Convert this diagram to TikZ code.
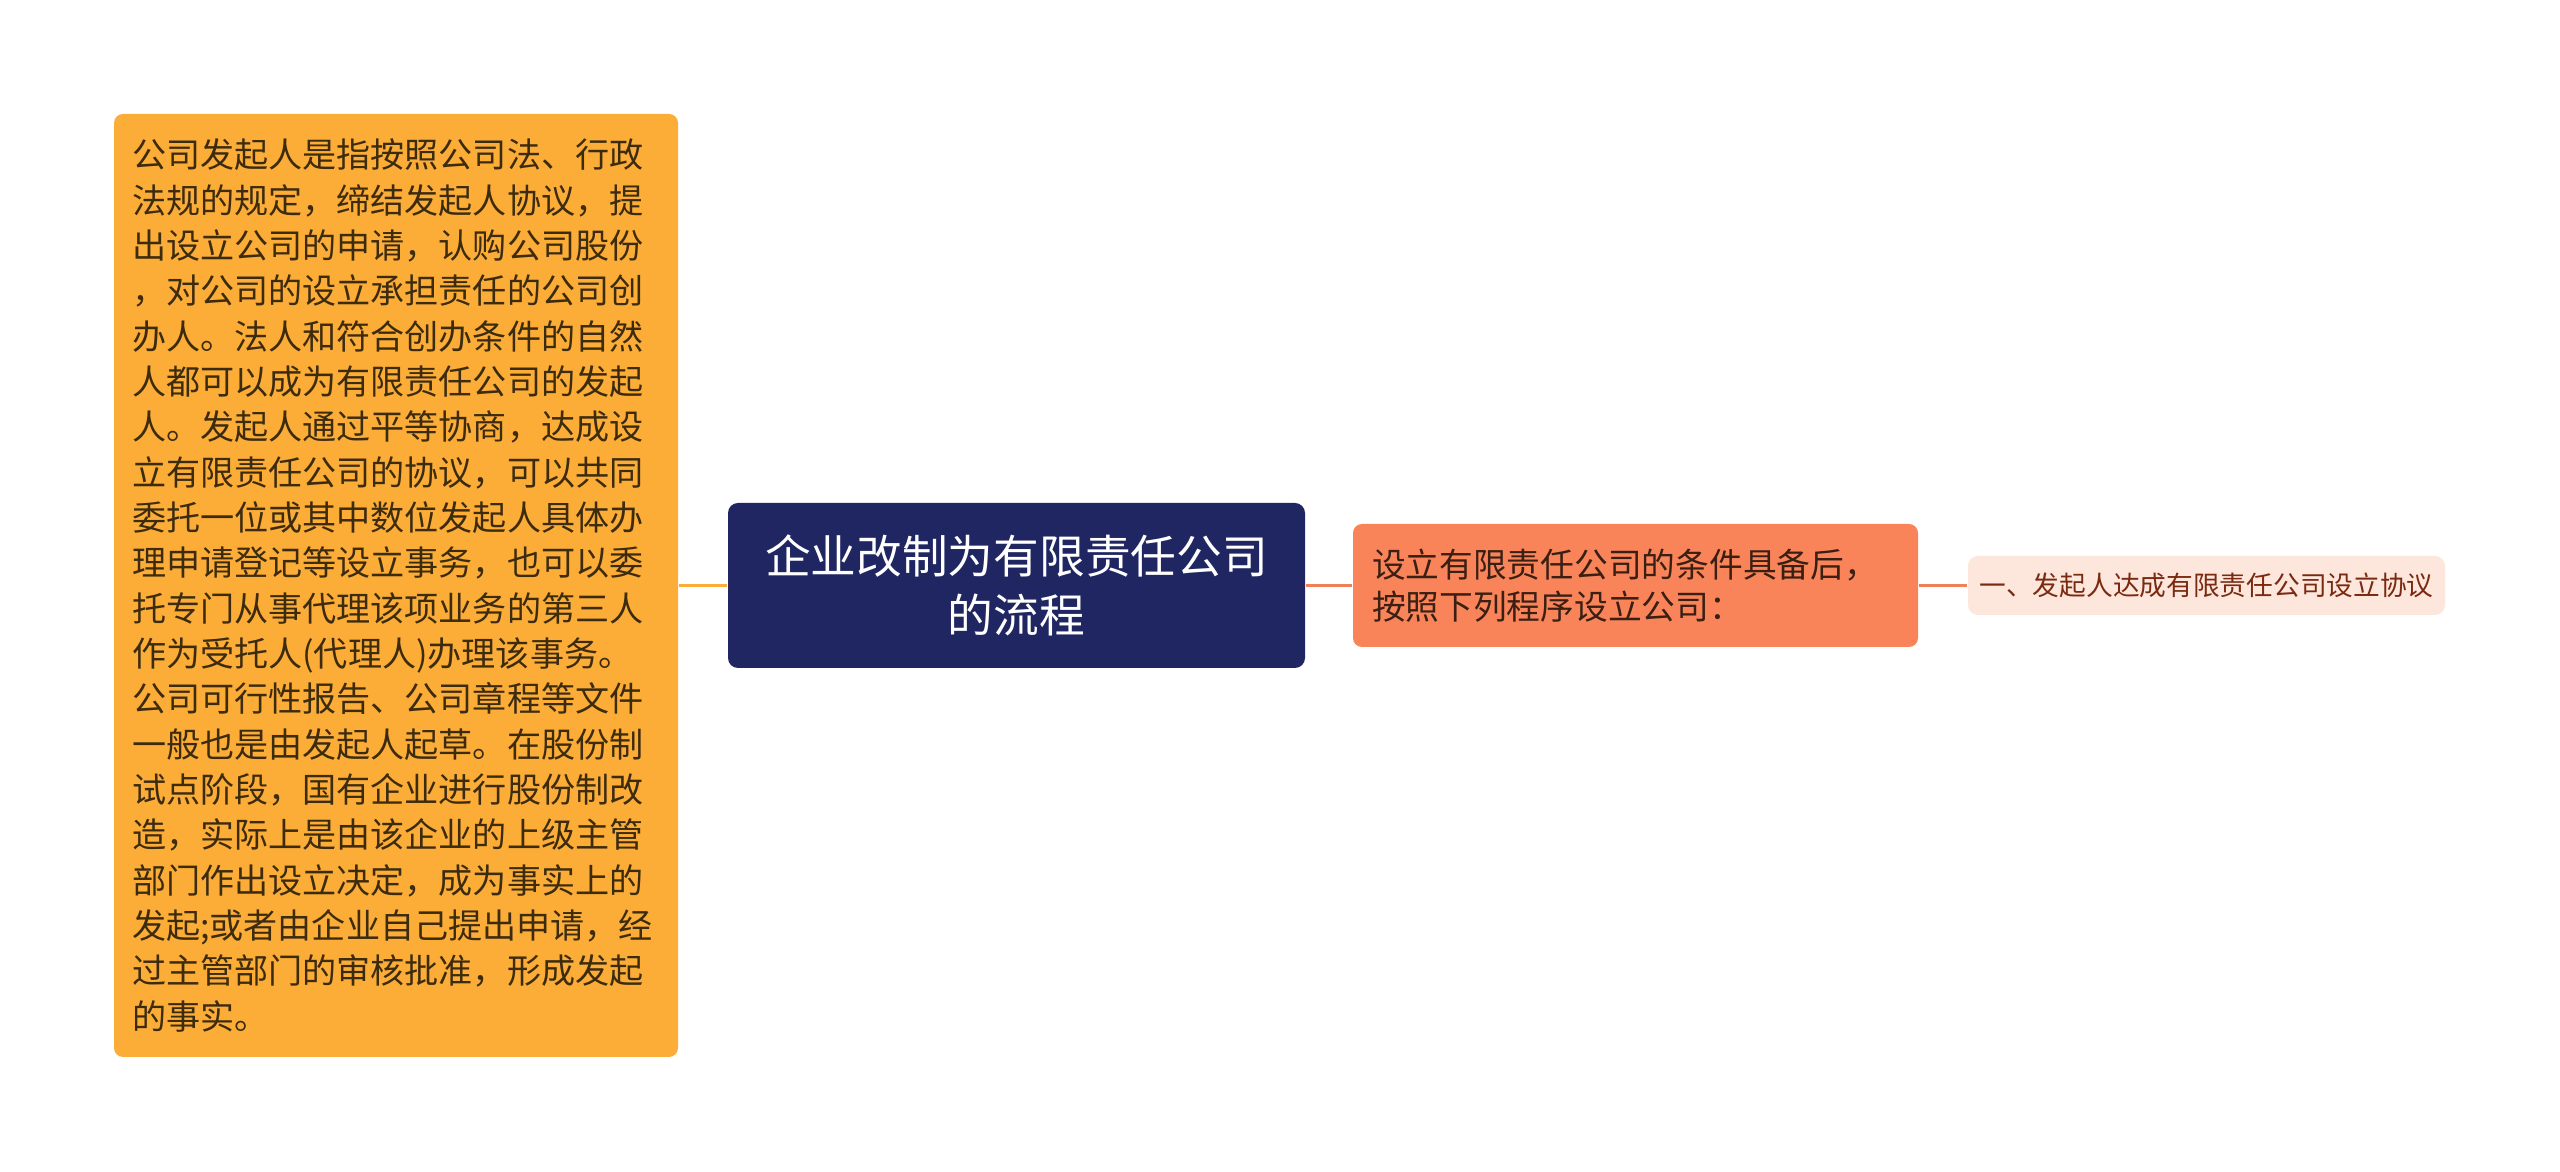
\documentclass[tikz,border=0pt]{standalone}
\usepackage{fontspec}
\newfontfamily\cjkfont{Noto Sans CJK SC}
\definecolor{detailfill}{HTML}{FCAD38}
\definecolor{detailtext}{HTML}{3D2B0E}
\definecolor{rootfill}{HTML}{1F2662}
\definecolor{branchfill}{HTML}{F9845A}
\definecolor{branchtext}{HTML}{3A1F12}
\definecolor{leaffill}{HTML}{FDE6DC}
\definecolor{leaftext}{HTML}{7A2A10}
\definecolor{branchline}{HTML}{F08058}
\tikzset{mind node/.style={rectangle, rounded corners=0.9mm, inner sep=0pt}}
\tikzset{detail node/.style={mind node, fill=detailfill, text=detailtext,
    minimum width=56.4mm, minimum height=94.3mm, text width=52.8mm, align=left,
    font=\cjkfont\fontsize{9.7pt}{12.9pt}\selectfont}}
\tikzset{root node/.style={mind node, rounded corners=1mm, fill=rootfill, text=white,
    minimum width=57.7mm, minimum height=16.5mm, align=center,
    font=\cjkfont\fontsize{13pt}{17pt}\selectfont}}
\tikzset{branch node/.style={mind node, fill=branchfill, text=branchtext,
    minimum width=56.5mm, minimum height=12.3mm, text width=52.7mm, align=left,
    font=\cjkfont\fontsize{9.6pt}{12pt}\selectfont}}
\tikzset{leaf node/.style={mind node, rounded corners=1mm, fill=leaffill, text=leaftext,
    minimum width=47.7mm, minimum height=5.9mm, align=center,
    font=\cjkfont\fontsize{7.6pt}{9pt}\selectfont}}
\tikzset{detail edge/.style={draw=detailfill, line width=0.3mm}}
\tikzset{branch edge/.style={draw=branchline, line width=0.3mm}}

\begin{document}
\begin{tikzpicture}
      [x=0.1mm, y=-0.1mm]
      \path [fill=white, use as bounding box] (0,0) rectangle (2560,1172);

      \node [detail node] (founder) at ( 396, 585.5) {公司发起人是指按照公司法、行政\\
        法规的规定，缔结发起人协议，提\\
        出设立公司的申请，认购公司股份\\
        ，对公司的设立承担责任的公司创\\
        办人。法人和符合创办条件的自然\\
        人都可以成为有限责任公司的发起\\
        人。发起人通过平等协商，达成设\\
        立有限责任公司的协议，可以共同\\
        委托一位或其中数位发起人具体办\\
        理申请登记等设立事务，也可以委\\
        托专门从事代理该项业务的第三人\\
        作为受托人(代理人)办理该事务。\\
        公司可行性报告、公司章程等文件\\
        一般也是由发起人起草。在股份制\\
        试点阶段，国有企业进行股份制改\\
        造，实际上是由该企业的上级主管\\
        部门作出设立决定，成为事实上的\\
        发起;或者由企业自己提出申请，经\\
        过主管部门的审核批准，形成发起\\
        的事实。};
      \node [root node]   (process) at (1016.5, 585.5) {企业改制为有限责任公司\\的流程};
      \node [branch node] (cond)    at (1635.5, 585.5) {设立有限责任公司的条件具备后，\\按照下列程序设立公司：};
      \node [leaf node]   (step1)   at (2206.5, 585.5) {一、发起人达成有限责任公司设立协议};

      \draw [detail edge] (founder) -- (process);
      \draw [branch edge] (process) -- (cond);
      \draw [branch edge] (cond)    -- (step1);
\end{tikzpicture}
\end{document}
